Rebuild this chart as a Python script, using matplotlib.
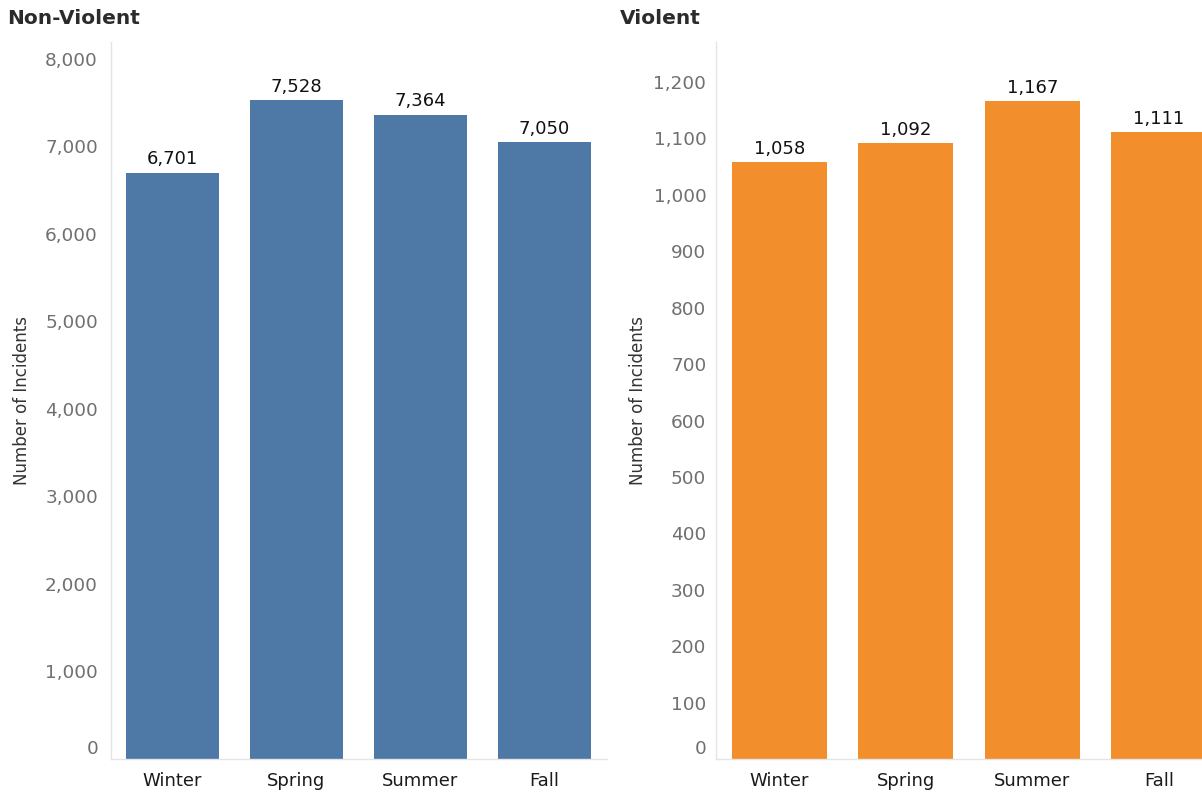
import matplotlib
matplotlib.use("Agg")
import matplotlib.pyplot as plt
from matplotlib.ticker import FixedLocator
import matplotlib.transforms as mtransforms

plt.rcParams['font.family'] = ['DejaVu Sans']

seasons = ["Winter", "Spring", "Summer", "Fall"]
non_violent = [6701, 7528, 7364, 7050]
violent = [1058, 1092, 1167, 1111]

nv_ticks = [0, 1000, 2000, 3000, 4000, 5000, 6000, 7000, 8000]
v_ticks = [0, 100, 200, 300, 400, 500, 600, 700, 800, 900, 1000, 1100, 1200]

BLUE = "#4e79a7"
ORANGE = "#f28e2b"
GRID = "#e4e4e4"

W, H = 1202, 794
fig = plt.figure(figsize=(W / 100, H / 100), dpi=100)
fig.patch.set_facecolor("white")


def px_axes(x0, x1, y_top, y_bot):
    return fig.add_axes([x0 / W, 1 - y_bot / H, (x1 - x0) / W, (y_bot - y_top) / H])


def style_panel(ax, values, color, ticks, ymax, title, title_x, ylabel_x, pad):
    x = list(range(len(values)))
    ax.bar(x, values, width=0.75, color=color, zorder=2)
    ax.set_xlim(-0.5, len(values) - 0.5)
    ax.set_ylim(0, ymax)
    ax.set_xticks(x)
    ax.set_xticklabels(seasons, fontsize=13, color="#1a1a1a")
    ax.yaxis.set_major_locator(FixedLocator(ticks))
    ax.set_yticklabels([f"{t:,}" for t in ticks], fontsize=13.3, color="#707070")
    ax.tick_params(axis="both", length=0)
    ax.tick_params(axis="y", pad=pad)
    ax.tick_params(axis="x", pad=9)
    for s in ("top", "right"):
        ax.spines[s].set_visible(False)
    for s in ("left", "bottom"):
        ax.spines[s].set_color(GRID)
        ax.spines[s].set_linewidth(1.0)
    for xi, v in zip(x, values):
        ax.annotate(f"{v:,}", (xi, v), xytext=(0, 3), textcoords="offset points",
                    ha="center", va="bottom", fontsize=13, color="#111111")
    ax.set_ylabel("Number of Incidents", fontsize=12, color="#333333", va="center")
    ax.yaxis.set_label_coords(ylabel_x, 0.5)
    # nudge the zero label upward so it sits inside the panel
    zero = ax.yaxis.get_major_ticks()[0].label1
    zero.set_transform(zero.get_transform() +
                       mtransforms.ScaledTranslation(0, 9 / 72, fig.dpi_scale_trans))
    fig.text(title_x / W, 1 - 18 / H, title, fontsize=14.5, fontweight="bold",
             color="#2b2b2b", ha="left", va="center")


ax1 = px_axes(110.5, 606.5, 42, 759)
style_panel(ax1, non_violent, BLUE, nv_ticks, 8194, "Non-Violent", 7,
            (22 - 110.5) / 496, 9)

ax2 = px_axes(716, 1222, 42, 759)
style_panel(ax2, violent, ORANGE, v_ticks, 1271, "Violent", 620,
            (638 - 716) / 506, 7)

fig.savefig("out.png", dpi=100, facecolor="white")
